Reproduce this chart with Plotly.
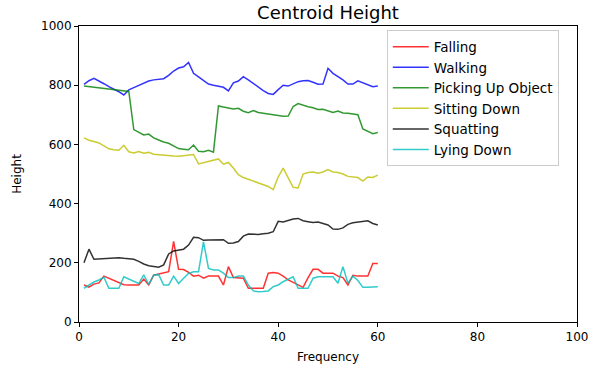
import plotly.graph_objects as go

x = list(range(1, 61))

falling = [125, 118, 128, 132, 155, 148, 142, 135, 126, 125,
           124, 125, 145, 125, 158, 162, 168, 170, 272, 178,
           177, 168, 155, 158, 148, 155, 155, 155, 125, 187,
           150, 148, 148, 114, 114, 114, 114, 165, 167, 165,
           155, 142, 133, 125, 117, 150, 178, 178, 165, 165,
           165, 155, 150, 125, 158, 155, 155, 155, 198, 198]

walking = [803, 815, 823, 815, 805, 795, 787, 778, 767, 784,
           792, 800, 808, 814, 818, 820, 822, 833, 848, 858,
           862, 877, 840, 828, 815, 804, 800, 797, 793, 781,
           808, 814, 829, 818, 805, 793, 782, 772, 769, 785,
           800, 797, 805, 812, 815, 816, 810, 803, 804, 857,
           840, 830, 818, 804, 804, 815, 808, 800, 795, 797]

picking = [797, 795, 793, 791, 789, 787, 785, 783, 781, 779,
           650, 640, 632, 635, 622, 615, 608, 604, 595, 586,
           584, 582, 598, 577, 575, 580, 574, 730, 726, 722,
           720, 722, 712, 707, 714, 708, 705, 702, 700, 697,
           695, 696, 728, 738, 732, 727, 724, 718, 719, 714,
           708, 713, 706, 705, 703, 700, 652, 645, 636, 640]

sitting = [622, 614, 610, 605, 595, 585, 582, 580, 597, 575,
           571, 576, 570, 573, 567, 565, 563, 562, 561, 560,
           562, 564, 566, 534, 538, 542, 546, 551, 533, 539,
           520, 498, 488, 482, 476, 470, 464, 458, 447, 490,
           520, 485, 455, 453, 500, 505, 507, 503, 507, 515,
           507, 505, 500, 492, 490, 488, 476, 490, 488, 496]

squatting = [200, 246, 212, 213, 214, 215, 216, 217, 215, 214,
             212, 205, 196, 190, 187, 185, 193, 230, 240, 242,
             246, 260, 286, 285, 276, 277, 277, 279, 278, 266,
             267, 272, 290, 297, 296, 296, 298, 300, 305, 340,
             338, 344, 348, 350, 342, 339, 336, 338, 334, 328,
             314, 313, 318, 330, 335, 338, 340, 342, 333, 328]

lying = [114, 125, 135, 142, 151, 114, 114, 114, 153, 145,
         136, 130, 159, 127, 159, 160, 125, 125, 155, 130,
         148, 164, 170, 170, 271, 181, 176, 176, 165, 150,
         150, 155, 155, 125, 105, 102, 103, 105, 119, 125,
         136, 145, 153, 114, 114, 114, 148, 153, 153, 153,
         153, 131, 187, 131, 155, 140, 117, 117, 117, 119]

names = ["Falling", "Walking", "Picking Up Object", "Sitting Down", "Squatting", "Lying Down"]
series = [falling, walking, picking, sitting, squatting, lying]
colors = ["#ff0000", "#0000ff", "#008000", "#bfbf00", "#000000", "#00bfbf"]

fig = go.Figure()
for n, s, c in zip(names, series, colors):
    fig.add_trace(go.Scatter(x=x, y=s, mode="lines", name=n,
                             line=dict(color=c, width=1.5), opacity=0.8))

axis_common = dict(showgrid=False, zeroline=False, showline=True, linecolor="#000000",
                   linewidth=1, mirror=True, ticks="outside", ticklen=4,
                   tickcolor="#000000", tickfont=dict(size=12, color="#000000"),
                   automargin=False)

fig.update_layout(
    width=592, height=371,
    margin=dict(l=79, r=15, t=26, b=49, autoexpand=False),
    paper_bgcolor="white", plot_bgcolor="white",
    font=dict(family="DejaVu Sans", size=12, color="#000000"),
    title=dict(text="Centroid Height", x=0.5, xref="paper", xanchor="center",
               yref="container", y=0.967, yanchor="middle", font=dict(size=18)),
    xaxis=dict(range=[0, 100], tickvals=[0, 20, 40, 60, 80, 100],
               title=dict(text="Frequency", standoff=9, font=dict(size=12)), **axis_common),
    yaxis=dict(range=[0, 1000], tickvals=[0, 200, 400, 600, 800, 1000],
               title=dict(text="Height", standoff=16, font=dict(size=12)), **axis_common),
    legend=dict(x=0.618, y=0.985, xanchor="left", yanchor="top",
                bgcolor="rgba(255,255,255,0.8)", bordercolor="#cccccc", borderwidth=1,
                font=dict(size=13.5), tracegroupgap=0, itemwidth=36,
                entrywidth=140, entrywidthmode="pixels"),
    showlegend=True,
)

fig.write_html("out.html", post_script="document.body.style.margin='0';",
               config={"displayModeBar": False})
